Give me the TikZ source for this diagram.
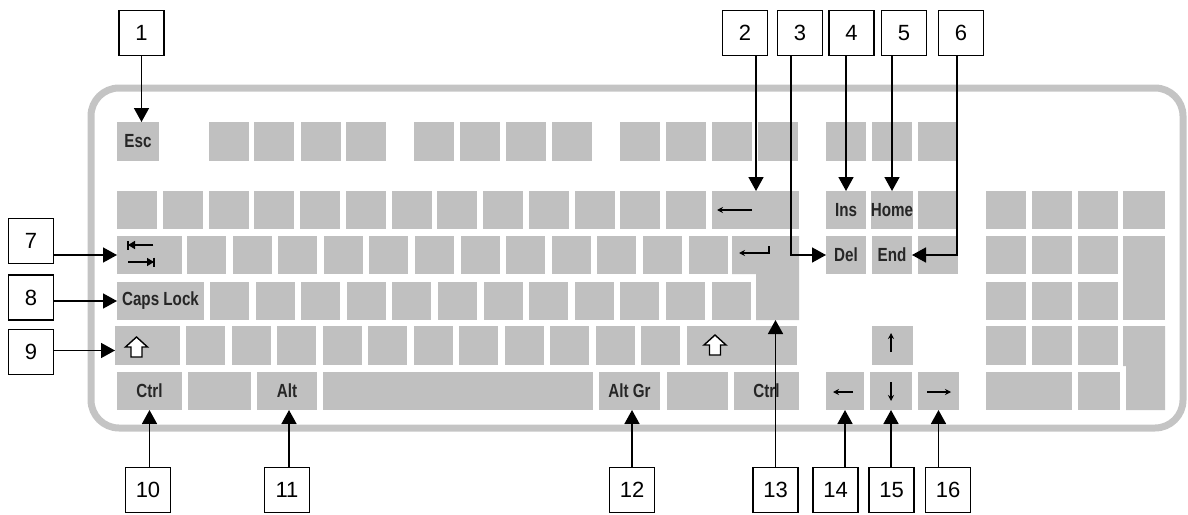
\documentclass[tikz,border=0pt]{standalone}
\usepackage{fontspec}
\newfontfamily\keyfont[FakeStretch=0.8]{Liberation Sans}
\newfontfamily\numfont{Liberation Sans}
\usetikzlibrary{arrows.meta,calc}
\definecolor{keygray}{HTML}{C0C0C0}
\definecolor{casegray}{HTML}{C4C4C4}
\newcommand{\kk}[6]{%
  \node[key, minimum width={((#4)-(#2))*1pt}, minimum height={((#5)-(#3))*1pt}] (#1) at ({((#2)+(#4))/2},{((#3)+(#5))/2}) {#6};}
\begin{document}
\begin{tikzpicture}[x=1pt,y=-1pt,
  key/.style={fill=keygray, inner sep=0pt, outer sep=0pt, font=\keyfont\bfseries\fontsize{19}{20}\selectfont, text=black!85},
  numbox/.style={draw, line width=1.6pt, fill=white, minimum size=45pt, inner sep=0pt, font=\numfont\fontsize{22}{24}\selectfont},
  callout/.style={line width=1.6pt, -{Triangle[width=15pt,length=14pt]}},
  sym/.style={line width=1.6pt},
  symtip/.style={-{Stealth[length=6pt,width=6pt]}},
  ]
\useasboundingbox (0,0) rectangle (1188,514);
% casing
\draw[line width=7pt, casegray, rounded corners=28pt] (91,88) rectangle (1183,428);

% function row
\kk{esc}{117}{122}{159}{161}{Esc}
\foreach \x [count=\i] in {209,254,301,346,414,460,506,552,620,666,712,758,826,872,918}
  {\kk{f\i}{\x}{122}{\x+40}{161}{}}

% number row
\foreach \i in {0,...,12} {\kk{n\i}{117+45.75*\i}{191}{157+45.75*\i}{229}{}}
\kk{bsp}{712}{191}{799}{229}{}
\kk{ins}{826}{191}{866}{229}{Ins}
\kk{home}{872}{191}{912}{229}{Home}
\kk{pgup}{918}{191}{958}{229}{}
\foreach \x [count=\i] in {986,1032,1078} {\kk{pa\i}{\x}{191}{\x+40}{229}{}}
\kk{pa4}{1123}{191}{1165}{229}{}

% tab row
\kk{tab}{117}{236}{182}{274}{}
\foreach \i in {0,...,11} {\kk{t\i}{187+45.6*\i}{236}{226+45.6*\i}{274}{}}
\fill[keygray] (732,236) -- (799,236) -- (799,320) -- (756,320) -- (756,274) -- (732,274) -- cycle;
\coordinate (entb) at (777.5,320);
\kk{del}{826}{236}{866}{274}{Del}
\kk{end}{872}{236}{912}{274}{End}
\kk{pgdn}{918}{236}{958}{274}{}
\foreach \x [count=\i] in {986,1032,1078} {\kk{pb\i}{\x}{236}{\x+40}{274}{}}
\kk{pplus}{1123}{236}{1165}{320}{}

% caps row
\kk{caps}{117}{282}{204}{320}{Caps Lock}
\foreach \i in {0,...,11} {\kk{c\i}{210+45.6*\i}{282}{249+45.6*\i}{320}{}}
\foreach \x [count=\i] in {986,1032,1078} {\kk{pc\i}{\x}{282}{\x+40}{320}{}}

% shift row
\kk{lshift}{115}{326}{180}{365}{}
\foreach \i in {0,...,10} {\kk{s\i}{186+45.5*\i}{326}{225+45.5*\i}{365}{}}
\kk{rshift}{687}{326}{797}{365}{}
\kk{up}{872}{326}{913}{365}{}
\foreach \x [count=\i] in {986,1032,1078} {\kk{pd\i}{\x}{326}{\x+40}{365}{}}
\fill[keygray] (1123,326) -- (1165,326) -- (1165,410) -- (1126,410) -- (1126,366) -- (1123,366) -- cycle;

% bottom row
\kk{lctrl}{117}{372}{182}{410}{Ctrl}
\kk{lwin}{188}{372}{251}{410}{}
\kk{alt}{257}{372}{317}{410}{Alt}
\kk{space}{323}{372}{593}{410}{}
\kk{altgr}{599}{372}{660}{410}{Alt Gr}
\kk{menu}{667}{372}{728}{410}{}
\kk{rctrl}{734}{372}{799}{410}{Ctrl}
\kk{left}{826}{372}{864}{410}{}
\kk{down}{870}{372}{912}{410}{}
\kk{right}{918}{372}{959}{410}{}
\kk{pzero}{986}{372}{1072}{410}{}
\kk{pdot}{1078}{372}{1120}{410}{}

% key symbols
\draw[sym, -{Bar[width=9pt]}] (153,245) -- (127,245);
\draw[sym, -{Triangle[length=7pt,width=8pt]}] (153,245) -- (128,245);
\draw[sym, -{Bar[width=9pt]}] (128,262) -- (155,262);
\draw[sym, -{Triangle[length=7pt,width=8pt]}] (128,262) -- (154,262);
\foreach \cx/\cy in {136.5/347, 715/345}
  \draw[line width=1.4pt, fill=white, line join=miter]
    (\cx,\cy-10) -- (\cx+11,\cy) -- (\cx+5.5,\cy) -- (\cx+5.5,\cy+10) -- (\cx-5.5,\cy+10) -- (\cx-5.5,\cy) -- (\cx-11,\cy) -- cycle;
\draw[sym, symtip] (752,210) -- (717,210);
\draw[sym, symtip] (769,246) -- (769,253) -- (739,253);
\draw[sym, symtip] (853,392) -- (833,392);
\draw[sym, symtip] (891,382) -- (891,401);
\draw[sym, symtip] (927,392) -- (951,392);
\draw[sym, symtip] (891,352) -- (891,333);

% number boxes
\node[numbox] (b1) at (141.5,33) {1};
\node[numbox] (b2) at (745,33) {2};
\node[numbox] (b3) at (800,33) {3};
\node[numbox] (b4) at (851.5,33) {4};
\node[numbox] (b5) at (904,33) {5};
\node[numbox] (b6) at (961,33) {6};
\node[numbox] (b7) at (31,241) {7};
\node[numbox] (b8) at (31,297.5) {8};
\node[numbox] (b9) at (31,352) {9};
\node[numbox] (b10) at (148,490) {10};
\node[numbox] (b11) at (287,490) {11};
\node[numbox] (b12) at (632,490) {12};
\node[numbox] (b13) at (775.5,490) {13};
\node[numbox] (b14) at (835.5,490) {14};
\node[numbox] (b15) at (891.5,490) {15};
\node[numbox] (b16) at (948,490) {16};

% callouts
\draw[callout] (b1.south) -- (b1.south |- esc.north);
\draw[callout] ([xshift=11pt]b2.south) -- ([xshift=11pt]b2.south |- bsp.north);
\draw[callout] ([xshift=-9pt]b3.south) |- (del.west);
\draw[callout] (ins.north |- b4.south) -- (ins.north);
\draw[callout] (home.north |- b5.south) -- (home.north);
\draw[callout] ([xshift=-4pt]b6.south) |- (end.east);
\draw[callout] (tab.west -| b7.east) -- (tab.west);
\draw[callout] (caps.west -| b8.east) -- (caps.west);
\draw[callout] ([yshift=-5pt]lshift.west -| b9.east) -- ([yshift=-5pt]lshift.west);
\draw[callout] (lctrl.south |- b10.north) -- (lctrl.south);
\draw[callout] ([xshift=2pt]b11.north) -- ([xshift=2pt]b11.north |- alt.south);
\draw[callout] (b12.north) -- (b12.north |- altgr.south);
\draw[callout] (b13.north) -- (b13.north |- entb);
\draw[callout] (left.south |- b14.north) -- (left.south);
\draw[callout] (down.south |- b15.north) -- (down.south);
\draw[callout] (right.south |- b16.north) -- (right.south);
\end{tikzpicture}
\end{document}
